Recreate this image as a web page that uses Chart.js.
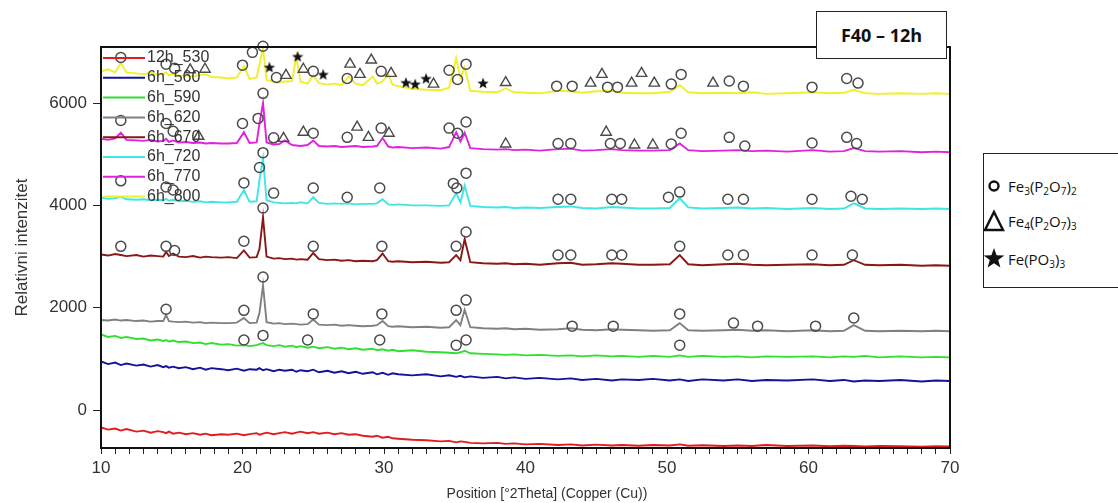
<!DOCTYPE html>
<html>
<head>
<meta charset="utf-8">
<script src="https://cdn.jsdelivr.net/npm/chart.js@4.4.1/dist/chart.umd.min.js"></script>
<style>
    html, body { margin: 0; padding: 0; background: #fff; overflow: hidden; }
    #wrap { position: relative; width: 1118px; height: 503px; }
    #xrd { position: absolute; left: 0; top: 0; }
    #title-box {
        position: absolute; left: 816px; top: 11px; width: 131px; height: 48px;
        box-sizing: border-box; border: 1.5px solid #222; background: #fff;
        display: flex; align-items: center; justify-content: center;
        font: bold 18px 'Open Sans', 'Liberation Sans', sans-serif; color: #111;
    }
    #x-title {
        position: absolute; left: 0; top: 485px; width: 1094px; text-align: center;
        font: 14px 'Liberation Sans', Arial, sans-serif; color: #333;
    }
    #phase-box {
        position: absolute; left: 983px; top: 153px; width: 160px; height: 135px;
        box-sizing: border-box; border: 1.5px solid #222; background: #fff;
        font: 15px 'Open Sans', 'Liberation Sans', sans-serif; color: #111;
    }
    .row { position: absolute; left: 0; height: 24px; display: flex; align-items: center; }
    .row svg { display: block; }
    .row span { position: absolute; left: 24px; white-space: nowrap; }
    sub { font-size: 10px; vertical-align: -3px; line-height: 0; }
</style>
</head>
<body>
<div id="wrap">
    <canvas id="xrd" width="1118" height="503"></canvas>
    <div id="title-box">F40 – 12h</div>
    <div id="x-title">Position [°2Theta] (Copper (Cu))</div>
    <div id="phase-box">
        <div class="row" style="top:20px">
            <svg width="22" height="22"><circle cx="10" cy="11" r="4.5" fill="none" stroke="#111" stroke-width="2.4"/></svg>
            <span>Fe<sub>3</sub>(P<sub>2</sub>O<sub>7</sub>)<sub>2</sub></span>
        </div>
        <div class="row" style="top:55px">
            <svg width="24" height="24"><polygon points="10,3 19,21 1,21" fill="none" stroke="#111" stroke-width="2.4"/></svg>
            <span>Fe<sub>4</sub>(P<sub>2</sub>O<sub>7</sub>)<sub>3</sub></span>
        </div>
        <div class="row" style="top:93px">
            <svg width="24" height="24"><polygon points="10,1 12.6,8.2 20.3,8.4 14.2,13.1 16.4,20.6 10,16.2 3.6,20.6 5.8,13.1 -0.3,8.4 7.4,8.2" fill="#111"/></svg>
            <span>Fe(PO<sub>3</sub>)<sub>3</sub></span>
        </div>
    </div>
</div>
<script>
// 2theta positions shared by all patterns
const twoTheta = [
    10, 10.5, 11, 11.4, 11.8, 12.5, 13, 13.5, 14, 14.4,
    14.6, 14.8, 15.1, 15.5, 16, 16.5, 17, 17.4, 17.8, 18.5,
    19, 19.6, 20.1, 20.5, 21, 21.2, 21.45, 21.7, 22.2, 22.6,
    23, 23.5, 23.8, 24.1, 24.6, 25, 25.4, 26, 26.5, 27,
    27.5, 28, 28.5, 29.2, 29.5, 29.9, 30.3, 30.6, 31, 32,
    33, 34, 34.6, 35.1, 35.4, 35.7, 36.1, 37, 38, 38.6,
    39.2, 40, 41, 42.3, 43.2, 44, 45, 46.1, 46.8, 48,
    49, 50.2, 50.9, 51.5, 52.5, 54, 55, 56, 57, 58.5,
    60.3, 61.5, 62.5, 63.2, 64, 65, 66.5, 68, 69, 70
];

const yTickValues = [0, 2000, 4000, 6000];

const seriesNames = ['12h_530', '6h_560', '6h_590', '6h_620', '6h_670', '6h_720', '6h_770', '6h_800'];
const seriesColors = ['#e31b1d', '#12129c', '#2fe02f', '#808080', '#8a1616', '#3ee6e6', '#e022e0', '#f0f02a'];

const s530 = [
    -340, -380, -360, -400, -370, -420, -400, -440, -410, -430,
    -450, -420, -460, -440, -470, -450, -480, -460, -490, -470,
    -480, -460, -490, -470, -450, -480, -460, -440, -470, -450,
    -430, -460, -440, -420, -450, -430, -460, -440, -470, -450,
    -480, -470, -500, -520, -500, -540, -520, -550, -560, -580,
    -590, -610, -600, -630, -610, -620, -640, -650, -640, -660,
    -650, -670, -660, -680, -670, -690, -675, -690, -680, -695,
    -680, -690, -670, -695, -685, -700, -690, -700, -680, -700,
    -690, -705, -695, -700, -710, -700, -705, -715, -705, -710
];
const s560 = [
    950, 900, 930, 880, 910, 870, 890, 850, 880, 840,
    860, 830, 850, 820, 840, 800, 830, 790, 820, 800,
    780, 810, 770, 800, 790, 820, 780, 800, 760, 790,
    770, 790, 750, 780, 760, 790, 740, 770, 730, 760,
    720, 750, 710, 740, 700, 730, 690, 720, 700, 680,
    700, 660, 680, 650, 670, 640, 660, 630, 650, 620,
    640, 610, 630, 600, 620, 590, 610, 580, 600, 590,
    610, 580, 600, 570, 600, 580, 600, 570, 590, 580,
    600, 570, 590, 560, 580, 570, 590, 560, 580, 570
];
const s590 = [
    1480, 1430, 1450, 1410, 1430, 1390, 1400, 1360, 1380, 1350,
    1370, 1340, 1360, 1330, 1340, 1310, 1320, 1290, 1310, 1280,
    1290, 1260, 1270, 1250, 1270, 1290, 1310, 1270, 1250, 1270,
    1240, 1260, 1230, 1250, 1220, 1240, 1210, 1230, 1200, 1220,
    1190, 1210, 1180, 1200, 1170, 1190, 1160, 1180, 1150, 1170,
    1140, 1130, 1120, 1110, 1130, 1160, 1110, 1100, 1090, 1080,
    1090, 1070, 1080, 1060, 1070, 1050, 1070, 1050, 1060, 1040,
    1060, 1040, 1070, 1040, 1060, 1040, 1050, 1030, 1050, 1040,
    1050, 1030, 1050, 1040, 1060, 1030, 1050, 1030, 1040, 1030
];
const s620 = [
    1760, 1750, 1770, 1750, 1760, 1740, 1750, 1730, 1740, 1740,
    1860, 1740, 1730, 1720, 1730, 1710, 1720, 1700, 1710, 1700,
    1700, 1710, 1800, 1700, 1710, 1900, 2440, 1720, 1690, 1700,
    1680, 1690, 1680, 1670, 1680, 1770, 1670, 1660, 1670, 1650,
    1660, 1650, 1640, 1650, 1660, 1740, 1640, 1630, 1640, 1620,
    1630, 1610, 1620, 1760, 1660, 1960, 1620, 1600, 1590, 1600,
    1580, 1590, 1570, 1580, 1600, 1570, 1560, 1580, 1570, 1560,
    1550, 1560, 1700, 1560, 1550, 1560, 1570, 1550, 1560, 1540,
    1560, 1540, 1550, 1660, 1550, 1540, 1550, 1540, 1550, 1540
];
const s670 = [
    3040, 3020, 3050, 3030, 3010, 3030, 3000, 3020, 3010, 3000,
    3090, 3010, 3060, 3000, 2990, 3010, 2980, 3000, 2990, 2980,
    2990, 2970, 3120, 2980, 2990, 3150, 3770, 3000, 2960, 2970,
    2950, 2960, 2940, 2950, 2940, 3070, 2950, 2930, 2940, 2920,
    2930, 2910, 2920, 2910, 2930, 3060, 2910, 2900, 2910, 2890,
    2900, 2880, 2890, 3030, 2930, 3340, 2890, 2870, 2860, 2870,
    2850, 2860, 2840, 2870, 2880, 2840, 2850, 2870, 2860, 2840,
    2840, 2850, 3030, 2850, 2830, 2850, 2860, 2840, 2830, 2840,
    2850, 2830, 2840, 2930, 2840, 2830, 2840, 2820, 2830, 2820
];
const s720 = [
    4150, 4130, 4140, 4170, 4120, 4110, 4120, 4100, 4110, 4100,
    4130, 4090, 4110, 4080, 4090, 4070, 4080, 4060, 4070, 4060,
    4060, 4070, 4300, 4070, 4080, 4500, 4920, 4100, 4060, 4050,
    4040, 4050, 4040, 4060, 4040, 4160, 4050, 4030, 4040, 4030,
    4040, 4020, 4030, 4030, 4040, 4120, 4020, 4010, 4020, 4000,
    4000, 3990, 4000, 4240, 4060, 4390, 3990, 3970, 3960, 3970,
    3950, 3960, 3950, 3970, 3980, 3950, 3940, 3970, 3960, 3940,
    3940, 3950, 4140, 3960, 3940, 3950, 3960, 3940, 3950, 3930,
    3950, 3930, 3940, 4040, 3940, 3930, 3940, 3930, 3940, 3930
];
const s770 = [
    5300, 5280, 5310, 5420, 5280, 5270, 5260, 5280, 5250, 5260,
    5300, 5240, 5270, 5230, 5240, 5220, 5230, 5210, 5220, 5210,
    5210, 5220, 5430, 5220, 5230, 5600, 6000, 5230, 5190, 5200,
    5270, 5180, 5170, 5160, 5180, 5270, 5160, 5150, 5160, 5140,
    5150, 5160, 5140, 5150, 5160, 5320, 5150, 5130, 5140, 5120,
    5130, 5110, 5140, 5430, 5250, 5420, 5120, 5100, 5090, 5100,
    5080, 5090, 5070, 5100, 5110, 5070, 5080, 5100, 5080, 5070,
    5070, 5080, 5210, 5080, 5060, 5070, 5080, 5060, 5070, 5050,
    5080, 5050, 5060, 5120, 5060, 5050, 5060, 5040, 5050, 5040
];
const s800 = [
    6620, 6660, 6600, 6780, 6600, 6580, 6560, 6590, 6550, 6560,
    6600, 6540, 6570, 6530, 6540, 6520, 6550, 6560, 6510, 6500,
    6480, 6500, 6720, 6470, 6500, 6750, 7080, 6450, 6420, 6400,
    6420, 6430, 6900, 6420, 6380, 6540, 6390, 6360, 6380, 6350,
    6520, 6380, 6350, 6520, 6380, 6420, 6560, 6360, 6330, 6280,
    6260, 6250, 6300, 6880, 6500, 6700, 6240, 6220, 6210, 6290,
    6210, 6200, 6190, 6240, 6230, 6200, 6230, 6240, 6200, 6190,
    6190, 6220, 6350, 6210, 6190, 6200, 6190, 6210, 6180, 6190,
    6210, 6190, 6200, 6260, 6190, 6180, 6190, 6180, 6190, 6180
];
const seriesValues = [s530, s560, s590, s620, s670, s720, s770, s800];

// phase markers [2theta, intensity]
const circleMarks = [
    // 6h_800
    [11.4, 6890], [14.6, 6760], [15.2, 6680], [20.0, 6740], [20.7, 6990], [21.45, 7110], [22.4, 6500],
    [25.0, 6620], [27.4, 6480], [29.8, 6620], [34.6, 6640], [35.2, 6460], [35.8, 6760], [42.2, 6330],
    [43.3, 6330], [45.8, 6310], [46.5, 6310], [50.3, 6370], [51.0, 6560], [54.4, 6430], [55.4, 6330],
    [60.25, 6310], [62.7, 6480], [63.5, 6390],
    // 6h_770
    [11.4, 5660], [14.6, 5600], [15.1, 5450], [20.0, 5600], [21.1, 5700], [21.45, 6190], [22.2, 5320],
    [25.0, 5410], [27.4, 5330], [29.8, 5510], [34.6, 5510], [35.2, 5410], [35.8, 5630], [42.3, 5210],
    [43.2, 5210], [46.0, 5210], [46.7, 5210], [50.3, 5200], [51.0, 5410], [54.4, 5330], [55.5, 5160],
    [60.25, 5220], [62.7, 5330], [63.4, 5210],
    // 6h_720
    [11.4, 4480], [14.6, 4360], [15.1, 4300], [20.1, 4440], [21.2, 4740], [21.45, 5030], [22.2, 4240],
    [25.0, 4340], [27.4, 4160], [29.7, 4340], [34.9, 4430], [35.15, 4340], [35.8, 4630], [42.3, 4120],
    [43.2, 4120], [46.1, 4120], [46.8, 4120], [50.1, 4160], [50.9, 4260], [54.3, 4120], [55.4, 4120],
    [60.25, 4120], [63.0, 4180], [63.8, 4120],
    // 6h_670
    [11.4, 3200], [14.6, 3200], [15.2, 3120], [20.1, 3300], [21.45, 3950], [25.0, 3200], [29.85, 3200],
    [35.1, 3200], [35.8, 3480], [42.3, 3030], [43.2, 3030], [46.1, 3030], [46.8, 3030], [50.9, 3200],
    [54.3, 3030], [55.4, 3030], [60.25, 3030], [63.1, 3030],
    // 6h_620
    [14.6, 1970], [20.1, 1950], [21.45, 2600], [25.0, 1880], [29.85, 1880], [35.1, 1950], [35.8, 2150],
    [43.3, 1640], [46.2, 1640], [50.9, 1880], [54.7, 1700], [56.4, 1640], [60.5, 1640], [63.2, 1800],
    [20.1, 1370], [21.45, 1460], [24.6, 1370], [29.7, 1370], [35.1, 1270], [35.8, 1370], [50.9, 1270]
];
const triangleMarks = [
    [16.3, 6650], [17.35, 6660], [23.07, 6540], [24.3, 6660], [27.6, 6760], [28.3, 6560], [29.1, 6840],
    [30.5, 6580], [33.5, 6370], [38.6, 6400], [44.6, 6390], [45.4, 6560], [47.5, 6390], [48.2, 6580],
    [49.1, 6390], [53.25, 6390],
    [16.9, 5350], [22.9, 5310], [24.3, 5430], [28.1, 5530], [28.9, 5330], [30.35, 5410], [38.6, 5200],
    [45.7, 5430], [47.7, 5180], [49.0, 5180]
];
const starMarks = [
    [21.9, 6700], [23.9, 6910], [25.7, 6560], [31.55, 6400], [32.2, 6370], [32.97, 6480], [37.0, 6390]
];

const fontFamily = "'Liberation Sans', Arial, sans-serif";

function makeStar(size) {
    const c = document.createElement('canvas');
    c.width = size; c.height = size;
    const g = c.getContext('2d');
    const cx = size / 2, cy = size / 2 + 0.5, R = size / 2, r = R * 0.42;
    g.beginPath();
    for (let i = 0; i < 10; i++) {
        const a = -Math.PI / 2 + i * Math.PI / 5;
        const rad = i % 2 === 0 ? R : r;
        g.lineTo(cx + rad * Math.cos(a), cy + rad * Math.sin(a));
    }
    g.closePath();
    g.fillStyle = '#111';
    g.fill();
    return c;
}

const toPoints = arr => arr.map(p => ({ x: p[0], y: p[1] }));

const lineSets = seriesNames.map((name, i) => ({
    type: 'line',
    label: name,
    data: twoTheta.map((x, j) => ({ x: x, y: seriesValues[i][j] })),
    borderColor: seriesColors[i],
    borderWidth: 1.9,
    pointRadius: 0,
    tension: 0,
    order: 2
}));

const markSets = [
    {
        type: 'scatter', label: 'circle', data: toPoints(circleMarks),
        pointStyle: 'circle', pointRadius: 5, borderColor: '#4a4a4a', borderWidth: 1.5,
        backgroundColor: 'rgba(0,0,0,0)', clip: false, order: 0
    },
    {
        type: 'scatter', label: 'triangle', data: toPoints(triangleMarks),
        pointStyle: 'triangle', pointRadius: 6, borderColor: '#4a4a4a', borderWidth: 1.4,
        backgroundColor: 'rgba(0,0,0,0)', clip: false, order: 0
    },
    {
        type: 'scatter', label: 'star', data: toPoints(starMarks),
        pointStyle: makeStar(12), pointRadius: 6, clip: false, order: 0
    }
];

const frame = {
    id: 'frame',
    afterDatasetsDraw(chart) {
        const { ctx, chartArea } = chart;
        ctx.save();
        ctx.strokeStyle = '#111';
        ctx.lineWidth = 2;
        ctx.strokeRect(chartArea.left, chartArea.top, chartArea.right - chartArea.left, chartArea.bottom - chartArea.top);

        // legend inside the plot, top left
        ctx.font = '16px ' + fontFamily;
        ctx.textBaseline = 'middle';
        seriesNames.forEach((name, i) => {
            const y = chartArea.top + 11 + i * 19.8;
            ctx.strokeStyle = seriesColors[i];
            ctx.lineWidth = 2;
            ctx.beginPath();
            ctx.moveTo(chartArea.left + 2, y);
            ctx.lineTo(chartArea.left + 44, y);
            ctx.stroke();
            ctx.fillStyle = '#333';
            ctx.fillText(name, chartArea.left + 46, y);
        });
        ctx.restore();
    }
};

new Chart(document.getElementById('xrd'), {
    data: { datasets: [...markSets, ...lineSets] },
    options: {
        responsive: false,
        animation: false,
        devicePixelRatio: 1,
        layout: { padding: { left: 0, top: 47, right: 168, bottom: 0 } },
        plugins: {
            legend: { display: false },
            tooltip: { enabled: false }
        },
        scales: {
            x: {
                type: 'linear',
                min: 10,
                max: 70,
                afterFit: s => { s.height = 55; },
                ticks: {
                    stepSize: 1,
                    autoSkip: false,
                    maxTicksLimit: 100,
                    maxRotation: 0,
                    padding: 4,
                    color: '#333',
                    font: { family: fontFamily, size: 17 },
                    callback: v => (v % 10 === 0 ? String(v) : '')
                },
                grid: { drawOnChartArea: false, tickLength: 6, color: '#222', lineWidth: 1 },
                border: { color: '#111', width: 2 }
            },
            y: {
                type: 'linear',
                min: -740,
                max: 7095,
                afterFit: s => { s.width = 101; },
                afterBuildTicks: s => { s.ticks = yTickValues.map(v => ({ value: v })); },
                ticks: {
                    padding: 6,
                    color: '#333',
                    font: { family: fontFamily, size: 17 },
                    callback: v => String(v)
                },
                grid: { drawOnChartArea: false, tickLength: 8, color: '#222', lineWidth: 1 },
                border: { color: '#111', width: 2 },
                title: {
                    display: true,
                    text: 'Relativni intenzitet',
                    color: '#333',
                    font: { family: fontFamily, size: 17 },
                    padding: { top: 12, bottom: 0 }
                }
            }
        }
    },
    plugins: [frame]
});
</script>
</body>
</html>
